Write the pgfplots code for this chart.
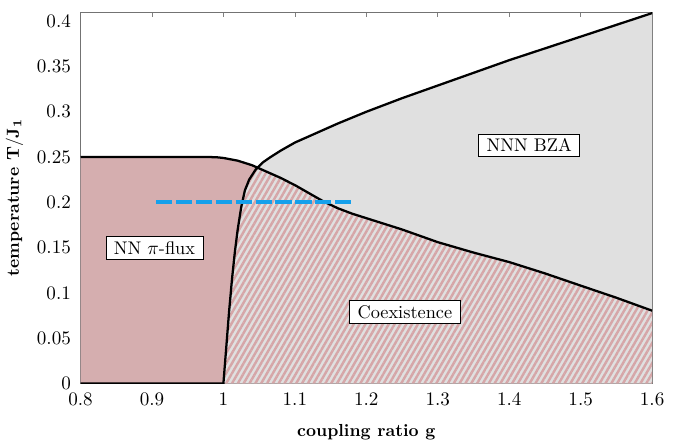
\documentclass[border=0pt]{standalone}
\usepackage{pgfplots}
\pgfplotsset{compat=1.18}
\usepgfplotslibrary{fillbetween}
\usetikzlibrary{patterns.meta}

\definecolor{nnpink}{RGB}{213,174,175}
\definecolor{nnngray}{RGB}{224,224,224}
\definecolor{hatchpink}{RGB}{214,166,168}
\definecolor{cutblue}{RGB}{22,160,235}

\begin{document}
\begin{tikzpicture}
    \begin{axis}[
        width=328pt, height=213pt, scale only axis,
        xmin=0.8, xmax=1.6,
        ymin=0, ymax=0.41,
        xtick={0.8,0.9,1,1.1,1.2,1.3,1.4,1.5,1.6},
        ytick={0,0.05,0.1,0.15,0.2,0.25,0.3,0.35,0.4},
        /pgf/number format/fixed,
        tick align=inside,
        major tick length=2.5pt,
        xtick style={black!50, thin},
        ytick style={draw=none},
        axis line style={black!55},
        tick label style={font=\fontsize{11.2}{13}\selectfont},
        xticklabel shift=2pt,
        yticklabel shift=2pt,
        xlabel={\textbf{coupling ratio g}},
        ylabel={\textbf{temperature $\mathbf{T/J_1}$}},
        xlabel style={inner sep=1pt, yshift=-6.3pt},
        ylabel style={yshift=1pt},
    ]

    % NN pi-flux transition line
    \addplot[name path=nn, black, line width=1.3pt]
        coordinates {
        (0.8,0.25)(0.9,0.25)(0.98,0.25)(0.99,0.2498)(1.0,0.249)
        (1.02,0.246)(1.04,0.241)(1.06,0.234)(1.08,0.227)(1.1,0.219)
        (1.12,0.210)(1.14,0.201)(1.16,0.1935)(1.18,0.1875)(1.2,0.1825)
        (1.22,0.1775)(1.25,0.170)(1.3,0.156)(1.35,0.1445)(1.4,0.134)
        (1.45,0.1215)(1.5,0.108)(1.55,0.0946)(1.6,0.0803)
        };

    % NNN BZA transition line
    \addplot[name path=nnn, black, line width=1.3pt]
        coordinates {
        (0.8,0)(1.0,0)(1.004,0.04)(1.008,0.08)(1.012,0.115)(1.016,0.145)
        (1.02,0.17)(1.025,0.195)(1.03,0.213)(1.036,0.225)(1.045,0.236)
        (1.055,0.244)(1.066,0.250)(1.08,0.257)(1.1,0.266)(1.12,0.273)
        (1.16,0.287)(1.2,0.300)(1.25,0.315)(1.3,0.329)(1.35,0.343)
        (1.4,0.357)(1.45,0.370)(1.5,0.383)(1.55,0.396)(1.6,0.409)
        };

    \addplot[name path=base, draw=none] coordinates {(0.8,0)(1.6,0)};

    \addplot[nnpink] fill between[of=nn and base];
    \addplot[nnngray] fill between[of=nnn and base];
    \addplot[draw=none, pattern={Lines[angle=60, distance=2.9pt, line width=1.4pt]}, pattern color=hatchpink]
        fill between[of=nnn and base, soft clip={domain=1:1.047}];
    \addplot[draw=none, pattern={Lines[angle=60, distance=2.9pt, line width=1.4pt]}, pattern color=hatchpink]
        fill between[of=nn and base, soft clip={domain=1.047:1.6}];

    % cut at T = 0.2
    \addplot[cutblue, line width=2.3pt, dash pattern=on 9.3pt off 2.1pt]
        coordinates {(0.906,0.2)(1.18,0.2)};

    \node[draw, fill=white, inner xsep=4.5pt, inner ysep=2.8pt, font=\fontsize{10.5}{12}\selectfont] at (axis cs:1.428,0.263) {NNN BZA};
    \node[draw, fill=white, inner xsep=4.5pt, inner ysep=2.8pt, font=\fontsize{10.5}{12}\selectfont] at (axis cs:0.9035,0.1495) {NN $\pi$-flux};
    \node[draw, fill=white, inner xsep=4.5pt, inner ysep=2.8pt, font=\fontsize{10.5}{12}\selectfont] at (axis cs:1.254,0.079) {Coexistence};
    \end{axis}
    \path (current axis.north east) -- ++(16pt,7pt);
\end{tikzpicture}
\end{document}
